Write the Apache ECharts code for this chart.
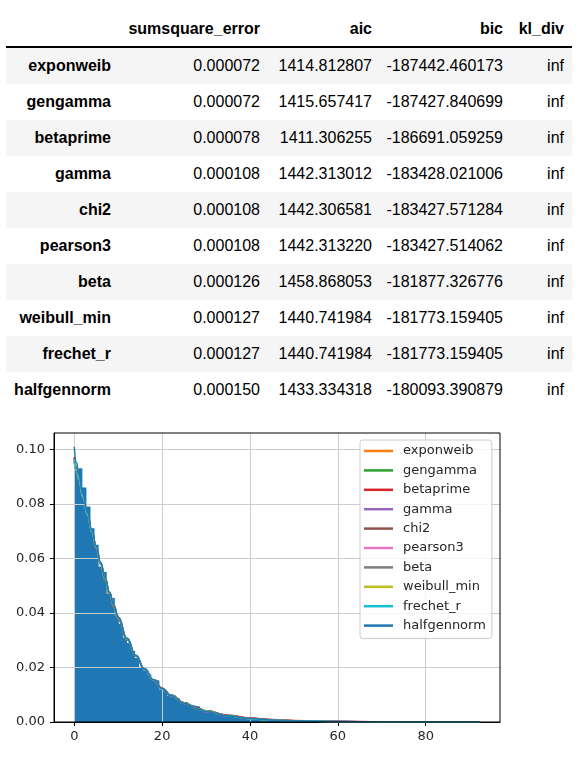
<!DOCTYPE html>
<html><head><meta charset="utf-8">
<script src="https://cdn.jsdelivr.net/npm/echarts@6/dist/echarts.min.js"></script>
<style>
body{margin:0;background:#fff;width:582px;height:760px;overflow:hidden;font-family:"Liberation Sans",Arial,Helvetica,sans-serif;}
#tbl{position:absolute;left:6px;top:0;width:566px;}
.hdr{position:relative;height:46px;border-bottom:2px solid #000;}
.row{position:relative;height:36px;}
.row.alt{background:#f5f5f5;}
.c{position:absolute;white-space:nowrap;font-size:16px;color:#000;}
.hdr .c{top:17px;line-height:24px;font-weight:bold;}
.row .c{top:0;line-height:36px;}
.row .c.idx{font-weight:bold;}
#chart{position:absolute;left:0;top:400px;width:582px;height:360px;}
</style></head>
<body>
<div id="tbl"></div>
<div id="chart"></div>
<script>
// ---------- table data ----------
const tableColumns = ['sumsquare_error', 'aic', 'bic', 'kl_div'];
const distNames = ['exponweib','gengamma','betaprime','gamma','chi2','pearson3','beta','weibull_min','frechet_r','halfgennorm'];
const sumsquareError = [0.000072,0.000072,0.000078,0.000108,0.000108,0.000108,0.000126,0.000127,0.000127,0.000150];
const aicValues = [1414.812807,1415.657417,1411.306255,1442.313012,1442.306581,1442.313220,1458.868053,1440.741984,1440.741984,1433.334318];
const bicValues = [-187442.460173,-187427.840699,-186691.059259,-183428.021006,-183427.571284,-183427.514062,-181877.326776,-181773.159405,-181773.159405,-180093.390879];
const klDiv = ['inf','inf','inf','inf','inf','inf','inf','inf','inf','inf'];

// ---------- histogram data (density per bin) ----------
const binMin = 0, binMax = 92.3, binCount = 100;
const histDensity = [
0.0920,0.0930,0.0860,0.0790,0.0710,0.0650,0.0570,0.0550,0.0470,0.0455,
0.0390,0.0360,0.0310,0.0290,0.0260,0.0235,0.0200,0.0190,0.0175,0.0157,
0.0151,0.0118,0.0112,0.0095,0.0098,0.0088,0.0072,0.0073,0.0063,0.0060,
0.0057,0.0045,0.0036,0.0034,0.0035,0.0031,0.0029,0.0024,0.0023,0.0020,
0.0019,0.0016,0.0015,0.0014,0.0012,0.0011,0.0010,0.0009,0.00085,0.00074,
0.00066,0.0006,0.00056,0.00049,0.00045,0.00041,0.00036,0.00034,0.0003,0.00027,
0.00025,0.00022,0.0002,0.00018,0.00017,0.00015,0.00013,0.00012,0.00011,0.0001,
0.00009,0.00008,0.00007,0.000065,0.00006,0.00005,0.000045,0.00004,0.000037,0.000033,
0.00003,0.000027,0.000024,0.00002,0.000018,0.000016,0.000014,0.000012,0.00001,0.00001,
0.000008,0.000008,0.000006,0.000006,0.000005,0.000004,0.000004,0.000003,0.000003,0.000002];

// ---------- fitted pdf curves ----------
const curveX = [0,0.5,1,2,3,4,5,6,7,8,9,10,12,14,16,18,20,22,25,28,30,35,40,45,50,60,70,80,92.3];
const yExponweib = [0.0970,0.0933,0.0897,0.0827,0.0761,0.0698,0.0638,0.0578,0.0521,0.0468,0.0420,0.0377,0.0302,0.0242,0.0194,0.0155,0.0124,0.0099,0.0071,0.0051,0.0041,0.0024,0.0014,0.00082,0.00048,0.00017,0.00006,0.00002,0.000006];
const yGengamma = [0.0968,0.0932,0.0896,0.0827,0.0762,0.0699,0.0638,0.0578,0.0521,0.0468,0.0420,0.0377,0.0302,0.0242,0.0194,0.0155,0.0124,0.0099,0.0071,0.0051,0.0041,0.0024,0.0014,0.00083,0.00049,0.00017,0.00006,0.00002,0.000006];
const yBetaprime = [0.0972,0.0934,0.0897,0.0826,0.0760,0.0697,0.0637,0.0578,0.0522,0.0469,0.0421,0.0378,0.0303,0.0243,0.0194,0.0155,0.0124,0.0099,0.0071,0.0051,0.0041,0.0025,0.0015,0.00090,0.00055,0.00022,0.00009,0.00004,0.000015];
const yGamma = [0.0955,0.0922,0.0889,0.0823,0.0760,0.0699,0.0640,0.0583,0.0528,0.0476,0.0428,0.0384,0.0306,0.0243,0.0193,0.0153,0.0121,0.0096,0.0068,0.0048,0.0038,0.0022,0.0013,0.00074,0.00042,0.00014,0.00005,0.00002,0.000005];
const yChi2 = [0.0955,0.0922,0.0889,0.0823,0.0760,0.0699,0.0640,0.0583,0.0528,0.0476,0.0428,0.0384,0.0306,0.0243,0.0193,0.0153,0.0121,0.0096,0.0068,0.0048,0.0038,0.0022,0.0013,0.00074,0.00042,0.00014,0.00005,0.00002,0.000005];
const yPearson3 = [0.0956,0.0922,0.0889,0.0823,0.0760,0.0699,0.0640,0.0583,0.0528,0.0476,0.0428,0.0384,0.0306,0.0243,0.0193,0.0153,0.0121,0.0096,0.0068,0.0048,0.0038,0.0022,0.0013,0.00074,0.00042,0.00014,0.00005,0.00002,0.000005];
const yBeta = [0.0958,0.0924,0.0890,0.0824,0.0760,0.0699,0.0640,0.0582,0.0527,0.0475,0.0427,0.0383,0.0306,0.0244,0.0194,0.0154,0.0122,0.0097,0.0069,0.0049,0.0039,0.0023,0.0013,0.00076,0.00044,0.00015,0.00005,0.00002,0.000005];
const yWeibullMin = [0.0962,0.0927,0.0892,0.0825,0.0761,0.0699,0.0640,0.0581,0.0525,0.0473,0.0425,0.0381,0.0305,0.0244,0.0195,0.0155,0.0123,0.0098,0.0069,0.0049,0.0039,0.0022,0.0012,0.00068,0.00038,0.00012,0.00004,0.00001,0.000003];
const yFrechetR = [0.0962,0.0927,0.0892,0.0825,0.0761,0.0699,0.0640,0.0581,0.0525,0.0473,0.0425,0.0381,0.0305,0.0244,0.0195,0.0155,0.0123,0.0098,0.0069,0.0049,0.0039,0.0022,0.0012,0.00068,0.00038,0.00012,0.00004,0.00001,0.000003];
const yHalfgennorm = [0.1009,0.0952,0.0908,0.0836,0.0768,0.0705,0.0645,0.0586,0.0530,0.0477,0.0428,0.0384,0.0307,0.0245,0.0195,0.0155,0.0123,0.0097,0.0068,0.0048,0.0038,0.0022,0.0013,0.00074,0.00043,0.00014,0.00005,0.00002,0.000005];

const xTickValues = [0,20,40,60,80];
const yTickValues = [0,0.02,0.04,0.06,0.08,0.10];

// ---------- build table ----------
(function(){
  const tbl = document.getElementById('tbl');
  const rights = [461,312,200,69,8];
  let h = '<div class="hdr">';
  tableColumns.forEach((c,j)=>{ h += '<span class="c" style="right:'+rights[j+1]+'px">'+c+'</span>'; });
  h += '</div>';
  distNames.forEach((n,i)=>{
    const vals = [sumsquareError[i].toFixed(6), aicValues[i].toFixed(6), bicValues[i].toFixed(6), klDiv[i]];
    h += '<div class="row'+(i%2===0?' alt':'')+'">';
    h += '<span class="c idx" style="right:'+rights[0]+'px">'+n+'</span>';
    vals.forEach((v,j)=>{ h += '<span class="c" style="right:'+rights[j+1]+'px">'+v+'</span>'; });
    h += '</div>';
  });
  tbl.innerHTML = h;
})();

// ---------- chart ----------
const chart = echarts.init(document.getElementById('chart'), null, {renderer:'canvas'});
const binW = (binMax - binMin) / binCount;
// step outline of the histogram: each bin's left edge with its density, plus the final right edge
const histData = histDensity.map((v,i)=>[binMin + i*binW, v]);
histData.push([binMax, histDensity[histDensity.length-1]]);
const curveSets = [yExponweib,yGengamma,yBetaprime,yGamma,yChi2,yPearson3,yBeta,yWeibullMin,yFrechetR,yHalfgennorm];
const colors = ['#ff7f0e','#2ca02c','#d62728','#9467bd','#8c564b','#e377c2','#7f7f7f','#bcbd22','#17becf','#1f77b4'];
const peak = Math.max(...histDensity, ...yHalfgennorm);

const series = [{
  type:'line', name:'hist', z:1, silent:true, step:'end', showSymbol:false,
  lineStyle:{width:0, color:'#1f77b4'}, color:'#1f77b4',
  areaStyle:{color:'#1f77b4', opacity:1, origin:'start'},
  data:histData
}];
curveSets.forEach((ys,k)=>{
  series.push({
    type:'line', name:distNames[k], z:3, showSymbol:false, smooth:true, smoothMonotone:'x',
    color:colors[k], lineStyle:{width:1.5, color:colors[k]},
    data: curveX.map((x,i)=>[x, ys[i]])
  });
});

const labelFont = {fontFamily:'DejaVu Sans', fontSize:13, color:'#262626'};
chart.setOption({
  animation:false,
  grid:{left:54, top:33, right:82, bottom:38, show:true, borderColor:'#000', borderWidth:1, z:4},
  xAxis:{type:'value', min:-0.05*binMax, max:1.05*binMax, z:2,
    axisLine:{show:true, onZero:false, lineStyle:{color:'#000', width:1}},
    axisTick:{show:true, length:4, customValues:xTickValues, lineStyle:{color:'#000'}},
    axisLabel:Object.assign({customValues:xTickValues, margin:8, formatter:v=>String(Math.round(v))}, labelFont),
    splitLine:{show:true, lineStyle:{color:'#cccccc', width:1}}},
  yAxis:{type:'value', min:0, max:1.05*peak, z:2,
    axisLine:{show:true, onZero:false, lineStyle:{color:'#000', width:1}},
    axisTick:{show:true, length:4, customValues:yTickValues, lineStyle:{color:'#000'}},
    axisLabel:Object.assign({customValues:yTickValues, margin:9, formatter:v=>v.toFixed(2)}, labelFont),
    splitLine:{show:true, lineStyle:{color:'#cccccc', width:1}}},
  legend:{show:true, orient:'vertical', left:360, top:40, selectedMode:false,
    data:distNames, icon:'rect', itemWidth:29, itemHeight:2.5, itemGap:5.4,
    backgroundColor:'rgba(255,255,255,0.8)', borderColor:'#cccccc', borderWidth:1, borderRadius:3,
    padding:[4,6,6,4],
    textStyle:{fontFamily:'DejaVu Sans', fontSize:13, color:'#262626', lineHeight:14, padding:[0,0,0,5]}},
  series:series
});
</script>
</body></html>
